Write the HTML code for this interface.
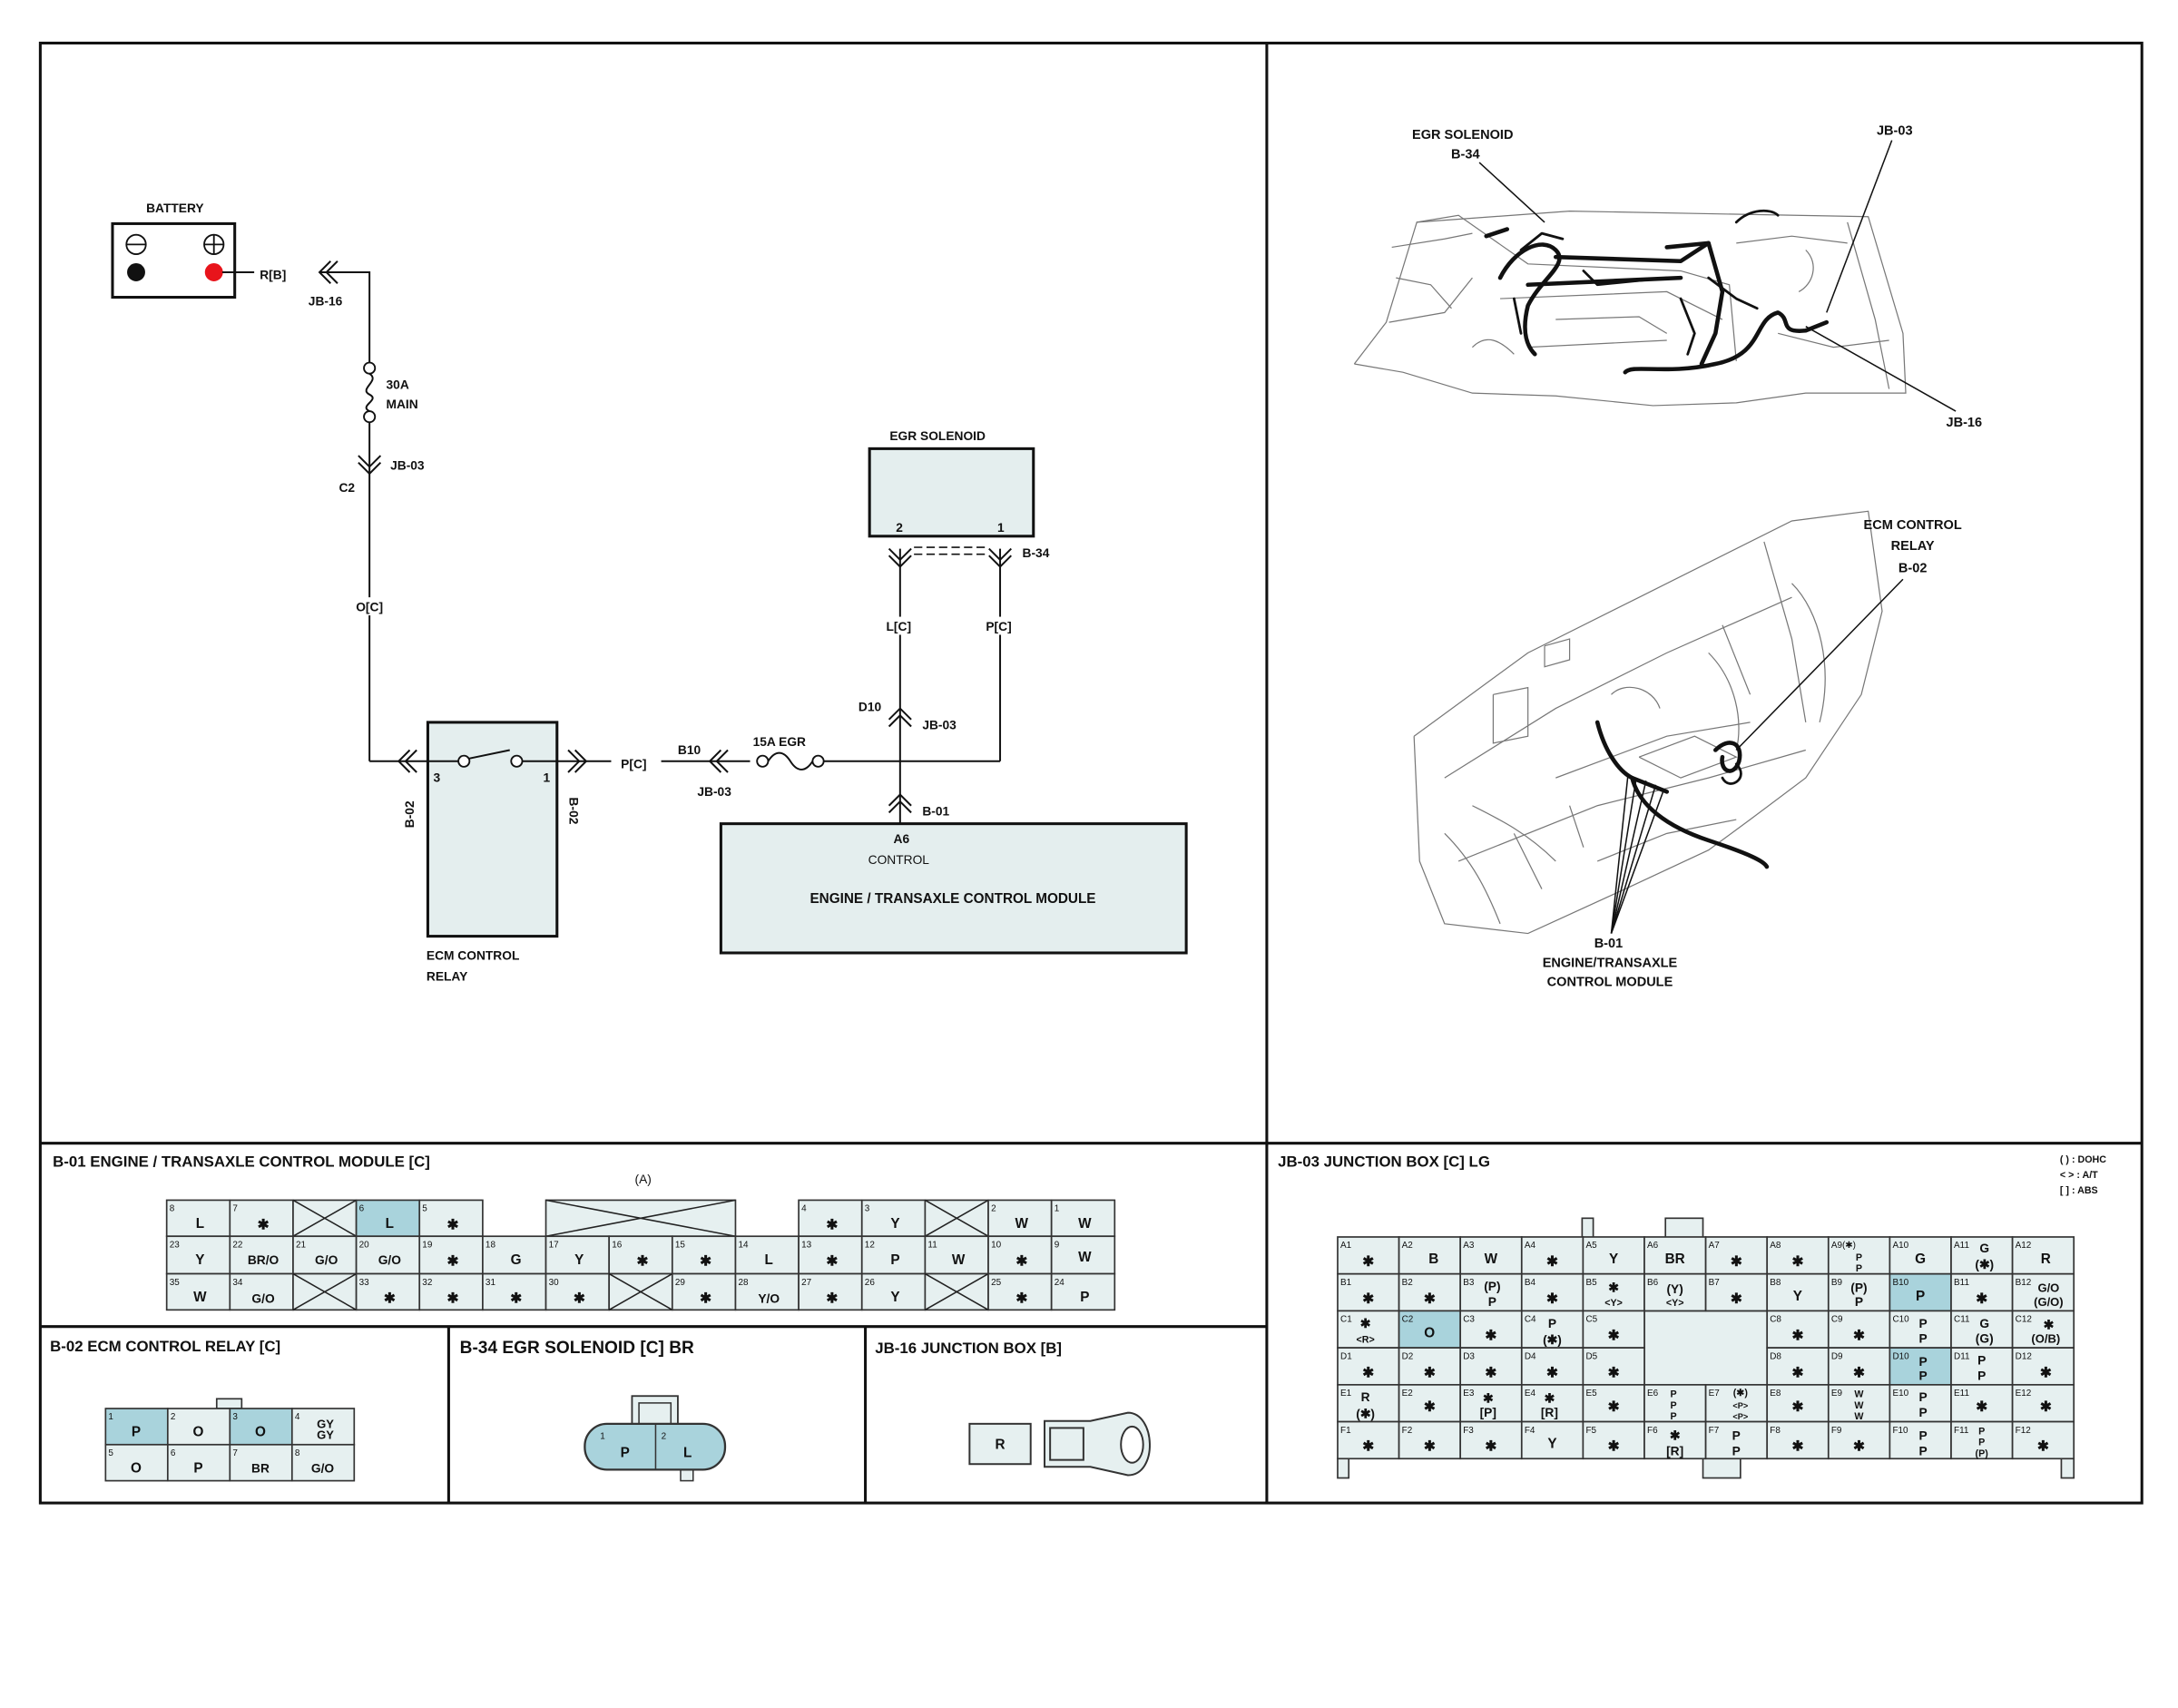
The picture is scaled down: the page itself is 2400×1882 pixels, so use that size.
<!DOCTYPE html>
<html><head><meta charset="utf-8"><style>
html,body{margin:0;padding:0;background:#fff}
svg{display:block}
text{font-family:"Liberation Sans",Arial,sans-serif;font-weight:bold;fill:#111}
.t{font-size:9px}
.h{font-size:11px}
.n{font-size:6.5px;font-weight:normal}
.v{font-size:10px;text-anchor:middle}
.s{font-size:7px;text-anchor:middle}
.c rect{fill:#e6f0f0;stroke:#333;stroke-width:1.1}
.c rect.bl{fill:#a9d3dc}
.c line{stroke:#222;stroke-width:1}
.w{fill:none;stroke:#111;stroke-width:1.3}
.ch{fill:none;stroke:#111;stroke-width:1.3}
.d{fill:none;stroke:#777;stroke-width:0.8}
.hr{fill:none;stroke:#111;stroke-width:3;stroke-linecap:round;stroke-linejoin:round}
.hr2{fill:none;stroke:#111;stroke-width:1.8;stroke-linecap:round;stroke-linejoin:round}
</style></head><body>
<svg width="2400" height="1882" viewBox="0 0 1568 1229.6" preserveAspectRatio="none" xmlns="http://www.w3.org/2000/svg">
<rect x="0" y="0" width="1568" height="1230" fill="#fff"/>
<g fill="none" stroke="#111" stroke-width="2">
<rect x="29" y="31" width="1513" height="1051"/>
<line x1="912" y1="31" x2="912" y2="1082"/>
<line x1="29" y1="823" x2="1542" y2="823"/>
<line x1="29" y1="955" x2="912" y2="955"/>
<line x1="323" y1="955" x2="323" y2="1082"/>
<line x1="623" y1="955" x2="623" y2="1082"/>
</g>

<!-- ===== schematic ===== -->
<text x="126" y="153" class="t" text-anchor="middle">BATTERY</text>
<rect x="81" y="161" width="88" height="53" fill="#fff" stroke="#111" stroke-width="2"/>
<circle cx="98" cy="176" r="7" fill="none" stroke="#111" stroke-width="1.2"/><line x1="91" y1="176" x2="105" y2="176" stroke="#111" stroke-width="1.2"/>
<circle cx="154" cy="176" r="7" fill="none" stroke="#111" stroke-width="1.2"/><line x1="147" y1="176" x2="161" y2="176" stroke="#111" stroke-width="1.2"/><line x1="154" y1="169" x2="154" y2="183" stroke="#111" stroke-width="1.2"/>
<circle cx="98" cy="196" r="6.5" fill="#111"/>
<circle cx="154" cy="196" r="6.5" fill="#e8141b"/>
<line x1="160" y1="196" x2="183" y2="196" class="w"/>
<text x="187" y="201" class="t">R[B]</text>
<polyline points="238,188 230,196 238,204" class="ch"/><polyline points="243,188 235,196 243,204" class="ch"/>
<polyline points="230,196 266,196 266,262" class="w"/>
<text x="222" y="220" class="t">JB-16</text>
<circle cx="266" cy="265" r="4" fill="#fff" stroke="#111" stroke-width="1.2"/>
<path d="M266,269 C274,274 258,280 266,284 C274,288 258,292 266,296" class="w"/>
<circle cx="266" cy="300" r="4" fill="#fff" stroke="#111" stroke-width="1.2"/>
<text x="278" y="280" class="t">30A</text><text x="278" y="294" class="t">MAIN</text>
<line x1="266" y1="304" x2="266" y2="548" class="w"/>
<polyline points="258,328 266,336 274,328" class="ch"/><polyline points="258,333 266,341 274,333" class="ch"/>
<text x="281" y="338" class="t">JB-03</text>
<text x="244" y="354" class="t">C2</text>
<rect x="252" y="430" width="28" height="13" fill="#fff"/>
<text x="266" y="440" class="t" text-anchor="middle">O[C]</text>
<line x1="266" y1="548" x2="308" y2="548" class="w"/>
<polyline points="295,540 287,548 295,556" class="ch"/><polyline points="300,540 292,548 300,556" class="ch"/>
<rect x="308" y="520" width="93" height="154" fill="#e4eeee" stroke="#111" stroke-width="2"/>
<line x1="308" y1="548" x2="330" y2="548" class="w"/>
<circle cx="334" cy="548" r="4" fill="#fff" stroke="#111" stroke-width="1.2"/>
<line x1="338" y1="546" x2="367" y2="540" class="w"/>
<circle cx="372" cy="548" r="4" fill="#fff" stroke="#111" stroke-width="1.2"/>
<line x1="376" y1="548" x2="440" y2="548" class="w"/>
<text x="312" y="563" class="t">3</text><text x="391" y="563" class="t">1</text>
<polyline points="409,540 417,548 409,556" class="ch"/><polyline points="414,540 422,548 414,556" class="ch"/>
<text x="447" y="553" class="t">P[C]</text>
<text transform="translate(298,596) rotate(-90)" class="t">B-02</text>
<text transform="translate(410,574) rotate(90)" class="t">B-02</text>
<text x="307" y="691" class="t">ECM CONTROL</text><text x="307" y="706" class="t">RELAY</text>
<line x1="476" y1="548" x2="540" y2="548" class="w"/>
<text x="488" y="543" class="t">B10</text>
<polyline points="519,540 511,548 519,556" class="ch"/><polyline points="524,540 516,548 524,556" class="ch"/>
<text x="502" y="573" class="t">JB-03</text>
<text x="542" y="537" class="t">15A EGR</text>
<circle cx="549" cy="548" r="4" fill="#fff" stroke="#111" stroke-width="1.2"/>
<path d="M553,548 C558,540 564,540 569,548 C574,556 580,556 585,548" class="w"/>
<circle cx="589" cy="548" r="4" fill="#fff" stroke="#111" stroke-width="1.2"/>
<line x1="593" y1="548" x2="720" y2="548" class="w"/>
<line x1="648" y1="395" x2="648" y2="593" class="w"/>
<line x1="720" y1="395" x2="720" y2="548" class="w"/>
<text x="675" y="317" class="t" text-anchor="middle">EGR SOLENOID</text>
<rect x="626" y="323" width="118" height="63" fill="#e4eeee" stroke="#111" stroke-width="2"/>
<text x="645" y="383" class="t">2</text><text x="718" y="383" class="t">1</text>
<polyline points="640,395 648,403 656,395" class="ch"/><polyline points="640,400 648,408 656,400" class="ch"/>
<polyline points="712,395 720,403 728,395" class="ch"/><polyline points="712,400 720,408 728,400" class="ch"/>
<line x1="658" y1="394" x2="712" y2="394" stroke="#111" stroke-width="1" stroke-dasharray="6,3"/>
<line x1="658" y1="399" x2="712" y2="399" stroke="#111" stroke-width="1" stroke-dasharray="6,3"/>
<text x="736" y="401" class="t">B-34</text>
<rect x="634" y="444" width="28" height="13" fill="#fff"/><text x="647" y="454" class="t" text-anchor="middle">L[C]</text>
<rect x="706" y="444" width="28" height="13" fill="#fff"/><text x="719" y="454" class="t" text-anchor="middle">P[C]</text>
<text x="618" y="512" class="t">D10</text>
<polyline points="640,518 648,510 656,518" class="ch"/><polyline points="640,523 648,515 656,523" class="ch"/>
<text x="664" y="525" class="t">JB-03</text>
<polyline points="640,580 648,572 656,580" class="ch"/><polyline points="640,585 648,577 656,585" class="ch"/>
<text x="664" y="587" class="t">B-01</text>
<rect x="519" y="593" width="335" height="93" fill="#e4eeee" stroke="#111" stroke-width="2"/>
<text x="649" y="607" class="t" text-anchor="middle">A6</text>
<text x="647" y="622" class="t" text-anchor="middle" style="font-weight:normal">CONTROL</text>
<text x="686" y="650" class="t" text-anchor="middle" style="font-size:10px">ENGINE / TRANSAXLE CONTROL MODULE</text>

<!-- ===== right top illustrations ===== -->
<g class="d">
<polyline points="975,262 998,232 1020,160 1130,152 1345,156 1370,240 1372,283 1300,283 1250,290 1190,292 1120,285 1060,283 1010,268 975,262"/>
<polyline points="1020,160 1050,155 1100,190 1210,195 1245,205 1250,260"/>
<polyline points="1000,232 1040,225 1060,200"/>
<polyline points="1330,160 1350,230 1360,280"/>
<polyline points="1080,215 1200,210 1240,230"/>
<polyline points="1100,250 1200,245"/>
<polyline points="1002,178 1040,172 1060,168"/>
<polyline points="1005,200 1030,205 1045,222"/>
<polyline points="1120,230 1180,228 1200,240"/>
<polyline points="1250,175 1290,170 1330,175"/>
<polyline points="1280,240 1320,250 1360,245"/>
<path d="M1060,250 C1070,240 1080,245 1090,255"/>
<path d="M1300,180 C1310,190 1305,205 1295,210"/>
<polyline points="1018,530 1100,470 1180,430 1290,375 1345,368 1355,440 1340,500 1300,560 1260,590 1230,612 1170,640 1100,672 1040,665 1022,620 1018,530"/>
<polyline points="1040,560 1120,510 1200,470 1290,430"/>
<polyline points="1075,500 1075,535 1100,530 1100,495 1075,500"/>
<polyline points="1112,465 1130,460 1130,475 1112,480 1112,465"/>
<polyline points="1270,390 1290,460 1300,520"/>
<polyline points="1050,620 1150,580 1230,560 1300,540"/>
<polyline points="1180,545 1220,530 1250,545 1210,560 1180,545"/>
<polyline points="1090,600 1110,640"/>
<polyline points="1130,580 1140,610"/>
<polyline points="1240,450 1260,500"/>
<path d="M1290,420 C1310,440 1320,480 1310,520"/>
<path d="M1230,470 C1250,490 1255,520 1250,540"/>
<path d="M1040,600 C1060,620 1070,640 1080,665"/>
<path d="M1060,580 C1080,590 1100,600 1120,620"/>
<path d="M1160,500 C1170,490 1190,495 1195,510"/>
<polyline points="1120,560 1200,530 1260,520"/>
<polyline points="1150,620 1200,600 1250,590"/>
</g>
<g class="hr">
<path d="M1070,170 L1085,165"/>
<path d="M1080,200 C1090,180 1110,170 1120,180 C1130,190 1110,200 1100,220 C1095,240 1100,250 1105,255"/>
<path d="M1120,185 L1210,188 L1230,175 L1240,210 L1235,240 L1225,262"/>
<path d="M1100,205 L1210,200"/>
<path d="M1170,268 C1175,262 1200,270 1235,262 C1270,255 1262,230 1280,225 C1290,230 1280,240 1300,238 L1315,232"/>
<path d="M1200,178 L1230,175"/>
<path d="M1150,520 C1155,540 1165,555 1175,560 L1200,570"/>
<path d="M1175,560 C1180,580 1200,595 1230,605 C1260,615 1270,620 1272,624"/>
<path d="M1235,540 C1245,530 1255,535 1252,548 C1248,560 1238,555 1240,545"/>
</g>
<g class="hr2">
<path d="M1095,180 L1110,168 L1125,172"/>
<path d="M1140,195 L1150,205 L1200,200"/>
<path d="M1210,215 L1220,240 L1215,255"/>
<path d="M1250,160 C1260,150 1275,150 1280,155"/>
<path d="M1230,200 L1250,215 L1265,222"/>
<path d="M1090,215 L1095,240"/>
<path d="M1250,550 C1260,560 1245,570 1240,560"/>
</g>
<g fill="none" stroke="#111" stroke-width="1">
<line x1="1362" y1="101" x2="1315" y2="225"/>
<line x1="1408" y1="296" x2="1300" y2="235"/>
<line x1="1065" y1="117" x2="1112" y2="160"/>
<line x1="1370" y1="417" x2="1250" y2="540"/>
<line x1="1160" y1="672" x2="1178" y2="560"/><line x1="1160" y1="672" x2="1185" y2="562"/><line x1="1160" y1="672" x2="1192" y2="565"/><line x1="1160" y1="672" x2="1198" y2="568"/><line x1="1160" y1="672" x2="1172" y2="558"/>
</g>
<g class="t" text-anchor="middle" style="font-size:9.5px">
<text x="1053" y="100">EGR SOLENOID</text><text x="1055" y="114">B-34</text>
<text x="1364" y="97">JB-03</text>
<text x="1414" y="307">JB-16</text>
<text x="1377" y="381">ECM CONTROL</text><text x="1377" y="396">RELAY</text><text x="1377" y="412">B-02</text>
<text x="1158" y="682">B-01</text><text x="1159" y="696">ENGINE/TRANSAXLE</text><text x="1159" y="710">CONTROL MODULE</text>
</g>

<!-- ===== B-01 connector ===== -->
<text x="38" y="840" class="h">B-01 ENGINE / TRANSAXLE CONTROL MODULE [C]</text>
<text x="463" y="852" class="t" text-anchor="middle" style="font-weight:normal">(A)</text>
<g class="c">
<g transform="translate(120,864)"><rect width="45.5" height="26"/><text x="2" y="8" class="n">8</text><text x="24" y="20" class="v">L</text></g>
<g transform="translate(165.5,864)"><rect width="45.5" height="26"/><text x="2" y="8" class="n">7</text><text x="24" y="21" class="v">✱</text></g>
<g transform="translate(211,864)"><rect width="45.5" height="26"/><line x1="0" y1="0" x2="45.5" y2="26"/><line x1="45.5" y1="0" x2="0" y2="26"/></g>
<g transform="translate(256.5,864)"><rect class="bl" width="45.5" height="26"/><text x="2" y="8" class="n">6</text><text x="24" y="20" class="v">L</text></g>
<g transform="translate(302,864)"><rect width="45.5" height="26"/><text x="2" y="8" class="n">5</text><text x="24" y="21" class="v">✱</text></g>
<g transform="translate(393,864)"><rect width="136.5" height="26"/><line x1="0" y1="0" x2="136.5" y2="26"/><line x1="136.5" y1="0" x2="0" y2="26"/></g>
<g transform="translate(575,864)"><rect width="45.5" height="26"/><text x="2" y="8" class="n">4</text><text x="24" y="21" class="v">✱</text></g>
<g transform="translate(620.5,864)"><rect width="45.5" height="26"/><text x="2" y="8" class="n">3</text><text x="24" y="20" class="v">Y</text></g>
<g transform="translate(666,864)"><rect width="45.5" height="26"/><line x1="0" y1="0" x2="45.5" y2="26"/><line x1="45.5" y1="0" x2="0" y2="26"/></g>
<g transform="translate(711.5,864)"><rect width="45.5" height="26"/><text x="2" y="8" class="n">2</text><text x="24" y="20" class="v">W</text></g>
<g transform="translate(757,864)"><rect width="45.5" height="26"/><text x="2" y="8" class="n">1</text><text x="24" y="20" class="v">W</text></g>
<g transform="translate(120,890)"><rect width="45.5" height="27"/><text x="2" y="8" class="n">23</text><text x="24" y="20" class="v">Y</text></g>
<g transform="translate(165.5,890)"><rect width="45.5" height="27"/><text x="2" y="8" class="n">22</text><text x="24" y="20" class="v" style="font-size:9px">BR/O</text></g>
<g transform="translate(211,890)"><rect width="45.5" height="27"/><text x="2" y="8" class="n">21</text><text x="24" y="20" class="v" style="font-size:9px">G/O</text></g>
<g transform="translate(256.5,890)"><rect width="45.5" height="27"/><text x="2" y="8" class="n">20</text><text x="24" y="20" class="v" style="font-size:9px">G/O</text></g>
<g transform="translate(302,890)"><rect width="45.5" height="27"/><text x="2" y="8" class="n">19</text><text x="24" y="21" class="v">✱</text></g>
<g transform="translate(347.5,890)"><rect width="45.5" height="27"/><text x="2" y="8" class="n">18</text><text x="24" y="20" class="v">G</text></g>
<g transform="translate(393,890)"><rect width="45.5" height="27"/><text x="2" y="8" class="n">17</text><text x="24" y="20" class="v">Y</text></g>
<g transform="translate(438.5,890)"><rect width="45.5" height="27"/><text x="2" y="8" class="n">16</text><text x="24" y="21" class="v">✱</text></g>
<g transform="translate(484,890)"><rect width="45.5" height="27"/><text x="2" y="8" class="n">15</text><text x="24" y="21" class="v">✱</text></g>
<g transform="translate(529.5,890)"><rect width="45.5" height="27"/><text x="2" y="8" class="n">14</text><text x="24" y="20" class="v">L</text></g>
<g transform="translate(575,890)"><rect width="45.5" height="27"/><text x="2" y="8" class="n">13</text><text x="24" y="21" class="v">✱</text></g>
<g transform="translate(620.5,890)"><rect width="45.5" height="27"/><text x="2" y="8" class="n">12</text><text x="24" y="20" class="v">P</text></g>
<g transform="translate(666,890)"><rect width="45.5" height="27"/><text x="2" y="8" class="n">11</text><text x="24" y="20" class="v">W</text></g>
<g transform="translate(711.5,890)"><rect width="45.5" height="27"/><text x="2" y="8" class="n">10</text><text x="24" y="21" class="v">✱</text></g>
<g transform="translate(757,890)"><rect width="45.5" height="27"/><text x="2" y="8" class="n">9</text><text x="24" y="18" class="v">W</text></g>
<g transform="translate(120,917)"><rect width="45.5" height="26"/><text x="2" y="8" class="n">35</text><text x="24" y="20" class="v">W</text></g>
<g transform="translate(165.5,917)"><rect width="45.5" height="26"/><text x="2" y="8" class="n">34</text><text x="24" y="21" class="v" style="font-size:9px">G/O</text></g>
<g transform="translate(211,917)"><rect width="45.5" height="26"/><line x1="0" y1="0" x2="45.5" y2="26"/><line x1="45.5" y1="0" x2="0" y2="26"/></g>
<g transform="translate(256.5,917)"><rect width="45.5" height="26"/><text x="2" y="8" class="n">33</text><text x="24" y="21" class="v">✱</text></g>
<g transform="translate(302,917)"><rect width="45.5" height="26"/><text x="2" y="8" class="n">32</text><text x="24" y="21" class="v">✱</text></g>
<g transform="translate(347.5,917)"><rect width="45.5" height="26"/><text x="2" y="8" class="n">31</text><text x="24" y="21" class="v">✱</text></g>
<g transform="translate(393,917)"><rect width="45.5" height="26"/><text x="2" y="8" class="n">30</text><text x="24" y="21" class="v">✱</text></g>
<g transform="translate(438.5,917)"><rect width="45.5" height="26"/><line x1="0" y1="0" x2="45.5" y2="26"/><line x1="45.5" y1="0" x2="0" y2="26"/></g>
<g transform="translate(484,917)"><rect width="45.5" height="26"/><text x="2" y="8" class="n">29</text><text x="24" y="21" class="v">✱</text></g>
<g transform="translate(529.5,917)"><rect width="45.5" height="26"/><text x="2" y="8" class="n">28</text><text x="24" y="21" class="v" style="font-size:9px">Y/O</text></g>
<g transform="translate(575,917)"><rect width="45.5" height="26"/><text x="2" y="8" class="n">27</text><text x="24" y="21" class="v">✱</text></g>
<g transform="translate(620.5,917)"><rect width="45.5" height="26"/><text x="2" y="8" class="n">26</text><text x="24" y="20" class="v">Y</text></g>
<g transform="translate(666,917)"><rect width="45.5" height="26"/><line x1="0" y1="0" x2="45.5" y2="26"/><line x1="45.5" y1="0" x2="0" y2="26"/></g>
<g transform="translate(711.5,917)"><rect width="45.5" height="26"/><text x="2" y="8" class="n">25</text><text x="24" y="21" class="v">✱</text></g>
<g transform="translate(757,917)"><rect width="45.5" height="26"/><text x="2" y="8" class="n">24</text><text x="24" y="20" class="v">P</text></g>
</g>

<!-- ===== B-02 ===== -->
<text x="36" y="973" class="h">B-02 ECM CONTROL RELAY [C]</text>
<g class="c">
<rect x="156" y="1007" width="18" height="7"/>
<g transform="translate(76,1014)"><rect class="bl" width="44.75" height="26"/><text x="2" y="8" class="n">1</text><text x="22" y="20" class="v">P</text></g>
<g transform="translate(120.75,1014)"><rect width="44.75" height="26"/><text x="2" y="8" class="n">2</text><text x="22" y="20" class="v">O</text></g>
<g transform="translate(165.5,1014)"><rect class="bl" width="44.75" height="26"/><text x="2" y="8" class="n">3</text><text x="22" y="20" class="v">O</text></g>
<g transform="translate(210.25,1014)"><rect width="44.75" height="26"/><text x="2" y="8" class="n">4</text><text x="24" y="14" class="v" style="font-size:8.5px">GY</text><text x="24" y="22" class="v" style="font-size:8.5px">GY</text></g>
<g transform="translate(76,1040)"><rect width="44.75" height="26"/><text x="2" y="8" class="n">5</text><text x="22" y="20" class="v">O</text></g>
<g transform="translate(120.75,1040)"><rect width="44.75" height="26"/><text x="2" y="8" class="n">6</text><text x="22" y="20" class="v">P</text></g>
<g transform="translate(165.5,1040)"><rect width="44.75" height="26"/><text x="2" y="8" class="n">7</text><text x="22" y="20" class="v" style="font-size:9px">BR</text></g>
<g transform="translate(210.25,1040)"><rect width="44.75" height="26"/><text x="2" y="8" class="n">8</text><text x="22" y="20" class="v" style="font-size:9px">G/O</text></g>
</g>

<!-- ===== B-34 ===== -->
<text x="331" y="974" class="h" style="font-size:12.5px">B-34 EGR SOLENOID [C] BR</text>
<rect x="455" y="1005" width="33" height="21" fill="#e6f0f0" stroke="#333" stroke-width="1.2"/>
<rect x="460" y="1010" width="23" height="16" fill="#e6f0f0" stroke="#333" stroke-width="1"/>
<rect x="490" y="1057" width="9" height="9" fill="#e6f0f0" stroke="#333" stroke-width="1"/>
<rect x="421" y="1025" width="101" height="33" rx="16" ry="16" fill="#a9d3dc" stroke="#333" stroke-width="1.5"/>
<line x1="472" y1="1025" x2="472" y2="1058" stroke="#333" stroke-width="1"/>
<text x="432" y="1036" class="n">1</text><text x="476" y="1036" class="n">2</text>
<text x="450" y="1049" class="v">P</text><text x="495" y="1049" class="v">L</text>

<!-- ===== JB-16 ===== -->
<text x="630" y="974" class="h">JB-16 JUNCTION BOX [B]</text>
<rect x="698" y="1025" width="44" height="29" fill="#e6f0f0" stroke="#333" stroke-width="1.3"/>
<text x="720" y="1043" class="v">R</text>
<path d="M752,1023 L785,1023 L812,1017 C832,1017 834,1062 812,1062 L785,1056 L752,1056 Z" fill="#e6f0f0" stroke="#333" stroke-width="1.3"/>
<rect x="756" y="1028" width="24" height="23" fill="#e6f0f0" stroke="#333" stroke-width="1.3"/>
<ellipse cx="815" cy="1040" rx="8" ry="13" fill="#fff" stroke="#333" stroke-width="1.3"/>

<!-- ===== JB-03 ===== -->
<text x="920" y="840" class="h">JB-03 JUNCTION BOX [C] LG</text>
<g style="font-size:7px;font-weight:normal">
<text x="1483" y="837">(    ) : DOHC</text>
<text x="1483" y="848">&lt;    &gt; : A/T</text>
<text x="1483" y="859">[    ] : ABS</text>
</g>
<g class="c">
<rect x="1139" y="877" width="8" height="14"/>
<rect x="1199" y="877" width="27" height="14"/>
<rect x="963" y="1050" width="8" height="14"/>
<rect x="1226" y="1050" width="27" height="14"/>
<rect x="1484" y="1050" width="9" height="14"/>
<rect x="1183.8" y="943.7" width="88.4" height="53.2"/>
<g transform="translate(963,890.5)"><rect width="44.17" height="26.6"/><text x="2" y="8" class="n">A1</text><text x="22" y="21" class="v">✱</text></g>
<g transform="translate(1007.17,890.5)"><rect width="44.17" height="26.6"/><text x="2" y="8" class="n">A2</text><text x="25" y="19" class="v">B</text></g>
<g transform="translate(1051.33,890.5)"><rect width="44.17" height="26.6"/><text x="2" y="8" class="n">A3</text><text x="22" y="19" class="v">W</text></g>
<g transform="translate(1095.5,890.5)"><rect width="44.17" height="26.6"/><text x="2" y="8" class="n">A4</text><text x="22" y="21" class="v">✱</text></g>
<g transform="translate(1139.67,890.5)"><rect width="44.17" height="26.6"/><text x="2" y="8" class="n">A5</text><text x="22" y="19" class="v">Y</text></g>
<g transform="translate(1183.83,890.5)"><rect width="44.17" height="26.6"/><text x="2" y="8" class="n">A6</text><text x="22" y="19" class="v">BR</text></g>
<g transform="translate(1228,890.5)"><rect width="44.17" height="26.6"/><text x="2" y="8" class="n">A7</text><text x="22" y="21" class="v">✱</text></g>
<g transform="translate(1272.17,890.5)"><rect width="44.17" height="26.6"/><text x="2" y="8" class="n">A8</text><text x="22" y="21" class="v">✱</text></g>
<g transform="translate(1316.33,890.5)"><rect width="44.17" height="26.6"/><text x="2" y="8" class="n">A9(✱)</text><text x="22" y="17" class="s">P</text><text x="22" y="25" class="s">P</text></g>
<g transform="translate(1360.5,890.5)"><rect width="44.17" height="26.6"/><text x="2" y="8" class="n">A10</text><text x="22" y="19" class="v">G</text></g>
<g transform="translate(1404.67,890.5)"><rect width="44.17" height="26.6"/><text x="2" y="8" class="n">A11</text><text x="24" y="11" class="v" style="font-size:9px">G</text><text x="24" y="23" class="v" style="font-size:9px">(✱)</text></g>
<g transform="translate(1448.83,890.5)"><rect width="44.17" height="26.6"/><text x="2" y="8" class="n">A12</text><text x="24" y="19" class="v">R</text></g>
<g transform="translate(963,917.1)"><rect width="44.17" height="26.6"/><text x="2" y="8" class="n">B1</text><text x="22" y="21" class="v">✱</text></g>
<g transform="translate(1007.17,917.1)"><rect width="44.17" height="26.6"/><text x="2" y="8" class="n">B2</text><text x="22" y="21" class="v">✱</text></g>
<g transform="translate(1051.33,917.1)"><rect width="44.17" height="26.6"/><text x="2" y="8" class="n">B3</text><text x="23" y="12" class="v" style="font-size:9px">(P)</text><text x="23" y="23" class="v" style="font-size:9px">P</text></g>
<g transform="translate(1095.5,917.1)"><rect width="44.17" height="26.6"/><text x="2" y="8" class="n">B4</text><text x="22" y="21" class="v">✱</text></g>
<g transform="translate(1139.67,917.1)"><rect width="44.17" height="26.6"/><text x="2" y="8" class="n">B5</text><text x="22" y="13" class="v" style="font-size:9px">✱</text><text x="22" y="23" class="s">&lt;Y&gt;</text></g>
<g transform="translate(1183.83,917.1)"><rect width="44.17" height="26.6"/><text x="2" y="8" class="n">B6</text><text x="22" y="14" class="v" style="font-size:9px">(Y)</text><text x="22" y="23" class="s">&lt;Y&gt;</text></g>
<g transform="translate(1228,917.1)"><rect width="44.17" height="26.6"/><text x="2" y="8" class="n">B7</text><text x="22" y="21" class="v">✱</text></g>
<g transform="translate(1272.17,917.1)"><rect width="44.17" height="26.6"/><text x="2" y="8" class="n">B8</text><text x="22" y="19" class="v">Y</text></g>
<g transform="translate(1316.33,917.1)"><rect width="44.17" height="26.6"/><text x="2" y="8" class="n">B9</text><text x="22" y="13" class="v" style="font-size:9px">(P)</text><text x="22" y="23" class="v" style="font-size:9px">P</text></g>
<g transform="translate(1360.5,917.1)"><rect class="bl" width="44.17" height="26.6"/><text x="2" y="8" class="n">B10</text><text x="22" y="19" class="v">P</text></g>
<g transform="translate(1404.67,917.1)"><rect width="44.17" height="26.6"/><text x="2" y="8" class="n">B11</text><text x="22" y="21" class="v">✱</text></g>
<g transform="translate(1448.83,917.1)"><rect width="44.17" height="26.6"/><text x="2" y="8" class="n">B12</text><text x="26" y="13" class="v" style="font-size:8.5px">G/O</text><text x="26" y="23" class="v" style="font-size:8.5px">(G/O)</text></g>
<g transform="translate(963,943.7)"><rect width="44.17" height="26.6"/><text x="2" y="8" class="n">C1</text><text x="20" y="12" class="v" style="font-size:9px">✱</text><text x="20" y="23" class="s">&lt;R&gt;</text></g>
<g transform="translate(1007.17,943.7)"><rect class="bl" width="44.17" height="26.6"/><text x="2" y="8" class="n">C2</text><text x="22" y="19" class="v">O</text></g>
<g transform="translate(1051.33,943.7)"><rect width="44.17" height="26.6"/><text x="2" y="8" class="n">C3</text><text x="22" y="21" class="v">✱</text></g>
<g transform="translate(1095.5,943.7)"><rect width="44.17" height="26.6"/><text x="2" y="8" class="n">C4</text><text x="22" y="12" class="v" style="font-size:9px">P</text><text x="22" y="24" class="v" style="font-size:9px">(✱)</text></g>
<g transform="translate(1139.67,943.7)"><rect width="44.17" height="26.6"/><text x="2" y="8" class="n">C5</text><text x="22" y="21" class="v">✱</text></g>
<g transform="translate(1272.17,943.7)"><rect width="44.17" height="26.6"/><text x="2" y="8" class="n">C8</text><text x="22" y="21" class="v">✱</text></g>
<g transform="translate(1316.33,943.7)"><rect width="44.17" height="26.6"/><text x="2" y="8" class="n">C9</text><text x="22" y="21" class="v">✱</text></g>
<g transform="translate(1360.5,943.7)"><rect width="44.17" height="26.6"/><text x="2" y="8" class="n">C10</text><text x="24" y="12" class="v" style="font-size:9px">P</text><text x="24" y="23" class="v" style="font-size:9px">P</text></g>
<g transform="translate(1404.67,943.7)"><rect width="44.17" height="26.6"/><text x="2" y="8" class="n">C11</text><text x="24" y="12" class="v" style="font-size:9px">G</text><text x="24" y="23" class="v" style="font-size:9px">(G)</text></g>
<g transform="translate(1448.83,943.7)"><rect width="44.17" height="26.6"/><text x="2" y="8" class="n">C12</text><text x="26" y="13" class="v" style="font-size:9px">✱</text><text x="24" y="23" class="v" style="font-size:8.5px">(O/B)</text></g>
<g transform="translate(963,970.3)"><rect width="44.17" height="26.6"/><text x="2" y="8" class="n">D1</text><text x="22" y="21" class="v">✱</text></g>
<g transform="translate(1007.17,970.3)"><rect width="44.17" height="26.6"/><text x="2" y="8" class="n">D2</text><text x="22" y="21" class="v">✱</text></g>
<g transform="translate(1051.33,970.3)"><rect width="44.17" height="26.6"/><text x="2" y="8" class="n">D3</text><text x="22" y="21" class="v">✱</text></g>
<g transform="translate(1095.5,970.3)"><rect width="44.17" height="26.6"/><text x="2" y="8" class="n">D4</text><text x="22" y="21" class="v">✱</text></g>
<g transform="translate(1139.67,970.3)"><rect width="44.17" height="26.6"/><text x="2" y="8" class="n">D5</text><text x="22" y="21" class="v">✱</text></g>
<g transform="translate(1272.17,970.3)"><rect width="44.17" height="26.6"/><text x="2" y="8" class="n">D8</text><text x="22" y="21" class="v">✱</text></g>
<g transform="translate(1316.33,970.3)"><rect width="44.17" height="26.6"/><text x="2" y="8" class="n">D9</text><text x="22" y="21" class="v">✱</text></g>
<g transform="translate(1360.5,970.3)"><rect class="bl" width="44.17" height="26.6"/><text x="2" y="8" class="n">D10</text><text x="24" y="13" class="v" style="font-size:9px">P</text><text x="24" y="23" class="v" style="font-size:9px">P</text></g>
<g transform="translate(1404.67,970.3)"><rect width="44.17" height="26.6"/><text x="2" y="8" class="n">D11</text><text x="22" y="12" class="v" style="font-size:9px">P</text><text x="22" y="23" class="v" style="font-size:9px">P</text></g>
<g transform="translate(1448.83,970.3)"><rect width="44.17" height="26.6"/><text x="2" y="8" class="n">D12</text><text x="24" y="21" class="v">✱</text></g>
<g transform="translate(963,996.9)"><rect width="44.17" height="26.6"/><text x="2" y="8" class="n">E1</text><text x="20" y="12" class="v" style="font-size:9px">R</text><text x="20" y="24" class="v" style="font-size:9px">(✱)</text></g>
<g transform="translate(1007.17,996.9)"><rect width="44.17" height="26.6"/><text x="2" y="8" class="n">E2</text><text x="22" y="19" class="v">✱</text></g>
<g transform="translate(1051.33,996.9)"><rect width="44.17" height="26.6"/><text x="2" y="8" class="n">E3</text><text x="20" y="13" class="v" style="font-size:9px">✱</text><text x="20" y="23" class="v" style="font-size:9px">[P]</text></g>
<g transform="translate(1095.5,996.9)"><rect width="44.17" height="26.6"/><text x="2" y="8" class="n">E4</text><text x="20" y="13" class="v" style="font-size:9px">✱</text><text x="20" y="23" class="v" style="font-size:9px">[R]</text></g>
<g transform="translate(1139.67,996.9)"><rect width="44.17" height="26.6"/><text x="2" y="8" class="n">E5</text><text x="22" y="19" class="v">✱</text></g>
<g transform="translate(1183.83,996.9)"><rect width="44.17" height="26.6"/><text x="2" y="8" class="n">E6</text><text x="21" y="9" class="s">P</text><text x="21" y="17" class="s">P</text><text x="21" y="25" class="s">P</text></g>
<g transform="translate(1228,996.9)"><rect width="44.17" height="26.6"/><text x="2" y="8" class="n">E7</text><text x="25" y="8" class="s">(✱)</text><text x="25" y="17" class="s" style="font-size:6px">&lt;P&gt;</text><text x="25" y="25" class="s" style="font-size:6px">&lt;P&gt;</text></g>
<g transform="translate(1272.17,996.9)"><rect width="44.17" height="26.6"/><text x="2" y="8" class="n">E8</text><text x="22" y="19" class="v">✱</text></g>
<g transform="translate(1316.33,996.9)"><rect width="44.17" height="26.6"/><text x="2" y="8" class="n">E9</text><text x="22" y="9" class="s">W</text><text x="22" y="17" class="s">W</text><text x="22" y="25" class="s">W</text></g>
<g transform="translate(1360.5,996.9)"><rect width="44.17" height="26.6"/><text x="2" y="8" class="n">E10</text><text x="24" y="12" class="v" style="font-size:9px">P</text><text x="24" y="23" class="v" style="font-size:9px">P</text></g>
<g transform="translate(1404.67,996.9)"><rect width="44.17" height="26.6"/><text x="2" y="8" class="n">E11</text><text x="22" y="19" class="v">✱</text></g>
<g transform="translate(1448.83,996.9)"><rect width="44.17" height="26.6"/><text x="2" y="8" class="n">E12</text><text x="24" y="19" class="v">✱</text></g>
<g transform="translate(963,1023.5)"><rect width="44.17" height="26.6"/><text x="2" y="8" class="n">F1</text><text x="22" y="21" class="v">✱</text></g>
<g transform="translate(1007.17,1023.5)"><rect width="44.17" height="26.6"/><text x="2" y="8" class="n">F2</text><text x="22" y="21" class="v">✱</text></g>
<g transform="translate(1051.33,1023.5)"><rect width="44.17" height="26.6"/><text x="2" y="8" class="n">F3</text><text x="22" y="21" class="v">✱</text></g>
<g transform="translate(1095.5,1023.5)"><rect width="44.17" height="26.6"/><text x="2" y="8" class="n">F4</text><text x="22" y="19" class="v">Y</text></g>
<g transform="translate(1139.67,1023.5)"><rect width="44.17" height="26.6"/><text x="2" y="8" class="n">F5</text><text x="22" y="21" class="v">✱</text></g>
<g transform="translate(1183.83,1023.5)"><rect width="44.17" height="26.6"/><text x="2" y="8" class="n">F6</text><text x="22" y="13" class="v" style="font-size:9px">✱</text><text x="22" y="24" class="v" style="font-size:9px">[R]</text></g>
<g transform="translate(1228,1023.5)"><rect width="44.17" height="26.6"/><text x="2" y="8" class="n">F7</text><text x="22" y="13" class="v" style="font-size:9px">P</text><text x="22" y="24" class="v" style="font-size:9px">P</text></g>
<g transform="translate(1272.17,1023.5)"><rect width="44.17" height="26.6"/><text x="2" y="8" class="n">F8</text><text x="22" y="21" class="v">✱</text></g>
<g transform="translate(1316.33,1023.5)"><rect width="44.17" height="26.6"/><text x="2" y="8" class="n">F9</text><text x="22" y="21" class="v">✱</text></g>
<g transform="translate(1360.5,1023.5)"><rect width="44.17" height="26.6"/><text x="2" y="8" class="n">F10</text><text x="24" y="13" class="v" style="font-size:9px">P</text><text x="24" y="24" class="v" style="font-size:9px">P</text></g>
<g transform="translate(1404.67,1023.5)"><rect width="44.17" height="26.6"/><text x="2" y="8" class="n">F11</text><text x="22" y="9" class="s">P</text><text x="22" y="17" class="s">P</text><text x="22" y="25" class="s">(P)</text></g>
<g transform="translate(1448.83,1023.5)"><rect width="44.17" height="26.6"/><text x="2" y="8" class="n">F12</text><text x="22" y="21" class="v">✱</text></g>
</g>
</svg>
</body></html>
